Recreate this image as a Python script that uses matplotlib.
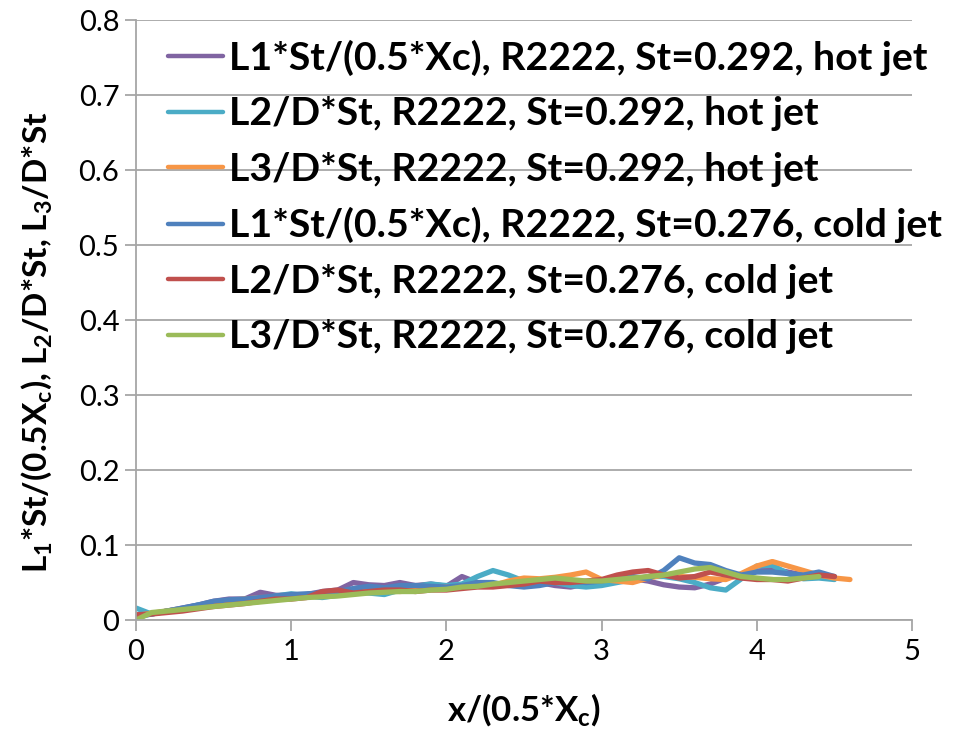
import matplotlib
matplotlib.use('Agg')
import matplotlib.pyplot as plt

plt.rcParams['font.family'] = ['Lato', 'DejaVu Sans']
plt.rcParams['mathtext.fontset'] = 'custom'
plt.rcParams['mathtext.rm'] = 'Lato:bold'
plt.rcParams['mathtext.it'] = 'Lato:bold'
plt.rcParams['mathtext.bf'] = 'Lato:bold'

# sample positions x/(0.5*Xc)
x = [0.0, 0.1, 0.2, 0.3, 0.4, 0.5, 0.6, 0.7, 0.8, 0.9,
     1.0, 1.1, 1.2, 1.3, 1.4, 1.5, 1.6, 1.7, 1.8, 1.9,
     2.0, 2.1, 2.2, 2.3, 2.4, 2.5, 2.6, 2.7, 2.8, 2.9,
     3.0, 3.1, 3.2, 3.3, 3.4, 3.5, 3.6, 3.7, 3.8, 3.9,
     4.0, 4.1, 4.2, 4.3, 4.4, 4.5, 4.6]

l1_hot = [0.005, 0.008, 0.012, 0.016, 0.020, 0.025, 0.028, 0.028, 0.037, 0.033,
          0.033, 0.034, 0.038, 0.040, 0.050, 0.047, 0.046, 0.050, 0.046, 0.048,
          0.045, 0.058, 0.050, 0.046, 0.048, 0.050, 0.050, 0.046, 0.044, 0.048,
          0.052, 0.055, 0.055, 0.052, 0.047, 0.044, 0.043, 0.048, 0.056, 0.060,
          0.065, 0.068, 0.064, 0.060, 0.058, 0.058]
l2_hot = [0.016, 0.008, 0.012, 0.015, 0.020, 0.022, 0.026, 0.027, 0.028, 0.032,
          0.035, 0.032, 0.030, 0.033, 0.038, 0.036, 0.034, 0.040, 0.045, 0.048,
          0.046, 0.048, 0.058, 0.066, 0.060, 0.052, 0.048, 0.050, 0.046, 0.044,
          0.046, 0.050, 0.054, 0.058, 0.058, 0.055, 0.050, 0.043, 0.040, 0.055,
          0.072, 0.073, 0.062, 0.055, 0.056, 0.054]
l3_hot = [0.006, 0.009, 0.012, 0.015, 0.018, 0.022, 0.026, 0.028, 0.030, 0.030,
          0.030, 0.033, 0.035, 0.036, 0.038, 0.040, 0.040, 0.038, 0.040, 0.043,
          0.044, 0.045, 0.045, 0.046, 0.052, 0.056, 0.055, 0.057, 0.060, 0.064,
          0.054, 0.052, 0.050, 0.056, 0.060, 0.058, 0.057, 0.055, 0.054, 0.062,
          0.072, 0.078, 0.072, 0.066, 0.060, 0.056, 0.054]
l1_cold = [0.004, 0.008, 0.012, 0.016, 0.020, 0.025, 0.027, 0.028, 0.030, 0.032,
           0.034, 0.035, 0.036, 0.038, 0.042, 0.045, 0.043, 0.046, 0.046, 0.045,
           0.044, 0.046, 0.050, 0.050, 0.046, 0.044, 0.046, 0.050, 0.052, 0.050,
           0.052, 0.056, 0.058, 0.055, 0.066, 0.083, 0.076, 0.074, 0.066, 0.060,
           0.064, 0.064, 0.062, 0.060, 0.064, 0.058]
l2_cold = [0.007, 0.008, 0.010, 0.012, 0.015, 0.018, 0.020, 0.022, 0.025, 0.028,
           0.028, 0.030, 0.038, 0.040, 0.036, 0.038, 0.040, 0.040, 0.038, 0.040,
           0.040, 0.042, 0.044, 0.044, 0.046, 0.048, 0.052, 0.050, 0.050, 0.052,
           0.054, 0.060, 0.064, 0.066, 0.060, 0.056, 0.058, 0.064, 0.060, 0.056,
           0.054, 0.054, 0.052, 0.056, 0.060, 0.058]
l3_cold = [0.000, 0.010, 0.012, 0.014, 0.016, 0.018, 0.020, 0.022, 0.024, 0.026,
           0.028, 0.030, 0.031, 0.032, 0.034, 0.036, 0.037, 0.038, 0.038, 0.040,
           0.041, 0.044, 0.045, 0.048, 0.050, 0.052, 0.054, 0.056, 0.054, 0.052,
           0.052, 0.054, 0.056, 0.058, 0.060, 0.064, 0.068, 0.070, 0.064, 0.058,
           0.056, 0.054, 0.054, 0.056, 0.058]

series = [
    (l1_hot, 'L1*St/(0.5*Xc), R2222, St=0.292, hot jet', '#8064A2'),
    (l2_hot, 'L2/D*St, R2222, St=0.292, hot jet', '#4BACC6'),
    (l3_hot, 'L3/D*St, R2222, St=0.292, hot jet', '#F79646'),
    (l1_cold, 'L1*St/(0.5*Xc), R2222, St=0.276, cold jet', '#4F81BD'),
    (l2_cold, 'L2/D*St, R2222, St=0.276, cold jet', '#C0504D'),
    (l3_cold, 'L3/D*St, R2222, St=0.276, cold jet', '#9BBB59'),
]

fig = plt.figure(figsize=(9.55, 7.31), dpi=100)
ax = fig.add_axes([0.1424, 0.1518, 0.8126, 0.8208])

for vals, label, color in series:
    ax.plot(x[:len(vals)], vals, color=color, lw=3.8, label=label,
            solid_capstyle='round', solid_joinstyle='round')

ax.set_xlim(0, 5)
ax.set_ylim(0, 0.8)
ax.set_xticks([0, 1, 2, 3, 4, 5])
ax.set_yticks([0, 0.1, 0.2, 0.3, 0.4, 0.5, 0.6, 0.7, 0.8])
ax.set_yticklabels(['0', '0.1', '0.2', '0.3', '0.4', '0.5', '0.6', '0.7', '0.8'])
ax.grid(axis='y', color='#A6A6A6', lw=1.3)
ax.set_axisbelow(True)
for s in ['top', 'right']:
    ax.spines[s].set_visible(False)
for s in ['left', 'bottom']:
    ax.spines[s].set_color('#A6A6A6')
    ax.spines[s].set_linewidth(1.3)
ax.tick_params(axis='both', colors='#A6A6A6', labelcolor='black',
               labelsize=21, length=8, width=1.3)
ax.tick_params(axis='x', pad=6)
ax.tick_params(axis='y', pad=4)

ax.set_xlabel(r'x/(0.5*X$_\mathrm{c}$)', fontsize=25, fontweight='bold')
ax.xaxis.set_label_coords(0.5, -0.118)
ax.set_ylabel(r'L$_\mathrm{1}$*St/(0.5X$_\mathrm{c}$), L$_\mathrm{2}$/D*St, L$_\mathrm{3}$/D*St',
              fontsize=24, fontweight='bold')
ax.yaxis.set_label_coords(-0.106, 0.463)

leg = ax.legend(loc='upper left', bbox_to_anchor=(0.016, 1.0), frameon=False,
                prop={'weight': 'bold', 'size': 28.3}, handlelength=1.4,
                handletextpad=0.15, labelspacing=0.52, borderaxespad=0.1)
for h in leg.get_lines():
    h.set_linewidth(3.2)

fig.savefig('out.png', dpi=100)
